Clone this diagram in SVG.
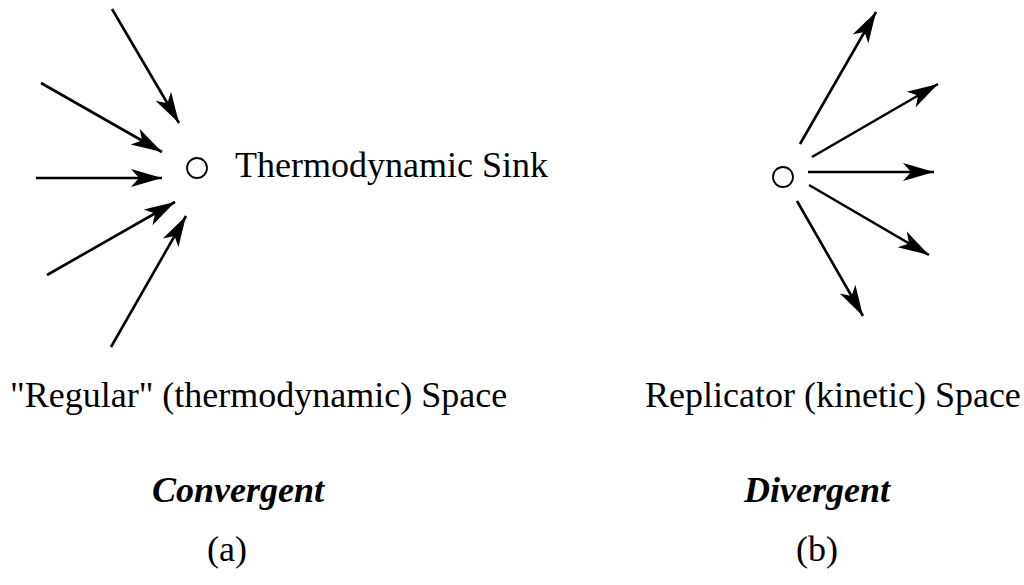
<svg xmlns="http://www.w3.org/2000/svg" width="1024" height="585" viewBox="0 0 1024 585">
  <style>
    .arrow { stroke: #000; stroke-width: 2.6; fill: none; marker-end: url(#head); }
    .dot { fill: #fff; stroke: #000; stroke-width: 1.8; }
    .lbl { font-family: "Liberation Serif", "Times New Roman", serif; font-size: 36px; fill: #000; }
    .emph { font-family: "Liberation Serif", "Times New Roman", serif; font-size: 36px; font-weight: bold; font-style: italic; fill: #000; }
  </style>
  <defs>
    <marker id="head" markerUnits="userSpaceOnUse" viewBox="-34 -12 36 24" refX="0" refY="0" markerWidth="36" markerHeight="24" orient="auto">
      <path d="M0,0 L-31,-9 L-23,0 L-31,9 Z" fill="#000"/>
    </marker>
  </defs>
  <rect width="1024" height="585" fill="#fff"/>

  <g id="connectors">
    <line class="arrow" x1="112" y1="9" x2="179" y2="123"/>
    <line class="arrow" x1="41" y1="83" x2="162" y2="152"/>
    <line class="arrow" x1="36" y1="178" x2="162" y2="178"/>
    <line class="arrow" x1="47" y1="275" x2="175" y2="202"/>
    <line class="arrow" x1="111" y1="347" x2="186" y2="216"/>

    <line class="arrow" x1="800" y1="144" x2="876" y2="12"/>
    <line class="arrow" x1="812" y1="157" x2="938" y2="84"/>
    <line class="arrow" x1="808" y1="172" x2="934" y2="172"/>
    <line class="arrow" x1="809" y1="185" x2="929" y2="255"/>
    <line class="arrow" x1="797" y1="201" x2="863" y2="316"/>
  </g>

  <g id="sink">
    <circle class="dot" cx="197" cy="168" r="10"/>
    <text class="lbl" x="235" y="177">Thermodynamic Sink</text>
  </g>

  <g id="source">
    <circle class="dot" cx="783" cy="177" r="10"/>
  </g>

  <g id="panel-a">
    <text class="lbl" x="10" y="407">"Regular" (thermodynamic) Space</text>
    <text class="emph" x="238" y="502" text-anchor="middle">Convergent</text>
    <text class="lbl" x="227" y="561" text-anchor="middle">(a)</text>
  </g>

  <g id="panel-b">
    <text class="lbl" x="645" y="407">Replicator (kinetic) Space</text>
    <text class="emph" x="817" y="502" text-anchor="middle">Divergent</text>
    <text class="lbl" x="817" y="561" text-anchor="middle">(b)</text>
  </g>
</svg>
